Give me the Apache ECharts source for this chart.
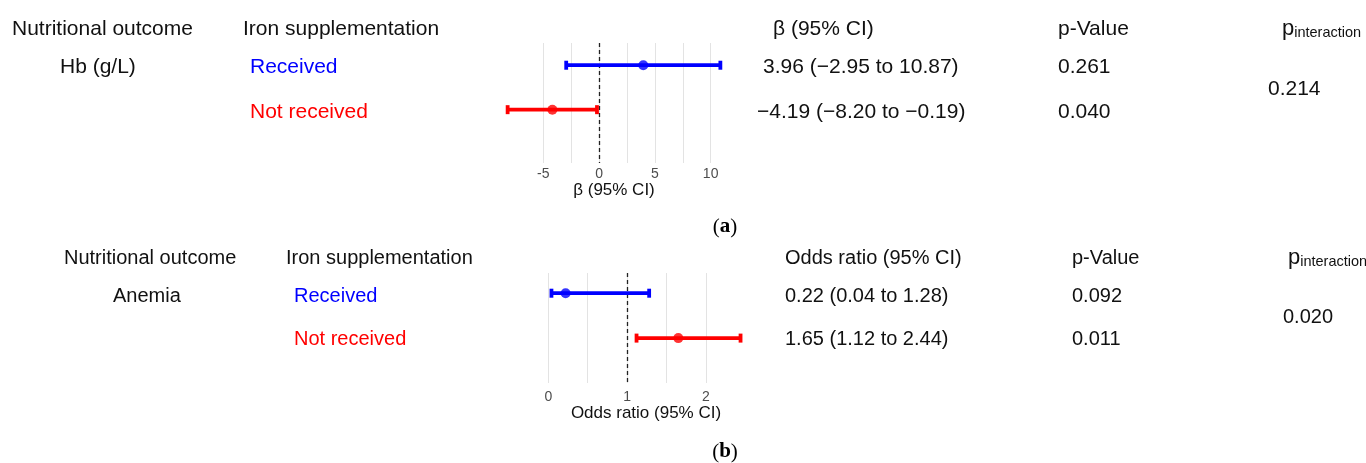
<!DOCTYPE html>
<html><head><meta charset="utf-8">
<script src="https://cdn.jsdelivr.net/npm/echarts@6/dist/echarts.min.js"></script>
<style>html,body{margin:0;padding:0;background:#fff}#c{width:1366px;height:463px}</style>
</head><body><div id="c"></div>
<script>
// ---------- data ----------
const groups = ['Received', 'Not received'];
const groupColors = ['#0000ff', '#ff0000'];

// Panel (a): Hb (g/L)
const hbOutcome = 'Hb (g/L)';
const hbHeaders = ['Nutritional outcome', 'Iron supplementation', 'β (95% CI)', 'p-Value'];
const hbEst = [3.96, -4.19];
const hbLow = [-2.95, -8.20];
const hbHigh = [10.87, -0.19];
const hbCI = ['3.96 (−2.95 to 10.87)', '−4.19 (−8.20 to −0.19)'];
const hbP = ['0.261', '0.040'];
const hbPint = '0.214';
const hbTicks = [-5, 0, 5, 10];
const hbGridVals = [-5, -2.5, 0, 2.5, 5, 7.5, 10];
const hbRef = 0;
const hbAxisName = 'β (95% CI)';

// Panel (b): Anemia
const anOutcome = 'Anemia';
const anHeaders = ['Nutritional outcome', 'Iron supplementation', 'Odds ratio (95% CI)', 'p-Value'];
const anEst = [0.22, 1.65];
const anLow = [0.04, 1.12];
const anHigh = [1.28, 2.44];
const anCI = ['0.22 (0.04 to 1.28)', '1.65 (1.12 to 2.44)'];
const anP = ['0.092', '0.011'];
const anPint = '0.020';
const anTicks = [0, 1, 2];
const anGridVals = [0, 0.5, 1, 1.5, 2];
const anRef = 1;
const anAxisName = 'Odds ratio (95% CI)';

// ---------- layout ----------
const FONT = '"Liberation Sans", Arial, sans-serif';
const layoutA = {
  grid: {left: 497, top: 43, width: 234, height: 120},
  yMin: 0.5, yMax: 3.2,
  size: 21,
  headerY: 29, rowY: [67, 112],
  colX: [12, 243, 773, 1058], outcomeX: 60, groupX: 250, ciX: [763, 757], pX: 1058,
  pintX: 1282, pintHeadY: 28, pintValX: 1268, pintValY: 89,
  panelLabel: 'a', panelX: 725, panelY: 227,
  nameGap: 18, labelMargin: 4
};
const layoutB = {
  grid: {left: 542, top: 273, width: 208, height: 110},
  yMin: 0.55, yMax: 3.0,
  size: 20,
  headerY: 258.5, rowY: [296, 339],
  colX: [64, 286, 785, 1072], outcomeX: 113, groupX: 294, ciX: [785, 785], pX: 1072,
  pintX: 1288, pintHeadY: 257, pintValX: 1283, pintValY: 317,
  panelLabel: 'b', panelX: 725, panelY: 452,
  nameGap: 21, labelMargin: 7
};

function expand(lo, hi) {
  const mn = Math.min(...lo), mx = Math.max(...hi), d = mx - mn;
  return [mn - 0.05 * d, mx + 0.05 * d];
}

function txt(x, y, s, size, color, align) {
  return {type: 'text', x: x, y: y, silent: true,
    style: {text: s, fontSize: size, fontFamily: FONT, fill: color || '#111',
      align: align || 'left', verticalAlign: 'middle'}};
}

function panelGraphics(L, outcome, headers, ci, pv, pint) {
  const g = [];
  headers.forEach((h, i) => g.push(txt(L.colX[i], L.headerY, h, L.size)));
  g.push(txt(L.outcomeX, L.rowY[0], outcome, L.size));
  groups.forEach((gr, i) => {
    g.push(txt(L.groupX, L.rowY[i], gr, L.size, groupColors[i]));
    g.push(txt(L.ciX[i], L.rowY[i], ci[i], L.size));
    g.push(txt(L.pX, L.rowY[i], pv[i], L.size));
  });
  g.push({type: 'text', x: L.pintX, y: L.pintHeadY, silent: true,
    style: {text: '{p|p}{s|interaction}', align: 'left', verticalAlign: 'middle', fill: '#111',
      rich: {p: {fontSize: 22, fontFamily: FONT, fill: '#111', verticalAlign: 'bottom', lineHeight: 24},
             s: {fontSize: 14.5, fontFamily: FONT, fill: '#111', verticalAlign: 'bottom', lineHeight: 22}}}});
  g.push(txt(L.pintValX, L.pintValY, pint, L.size));
  g.push({type: 'text', x: L.panelX, y: L.panelY, silent: true,
    style: {text: '{n|(}{b|' + L.panelLabel + '}{n|)}', align: 'center', verticalAlign: 'middle',
      rich: {n: {fontSize: 21, fontFamily: '"Liberation Serif", "DejaVu Serif", serif', fill: '#000'},
             b: {fontSize: 21, fontWeight: 'bold', fontFamily: '"Liberation Serif", "DejaVu Serif", serif', fill: '#000'}}}});
  return g;
}

function errRender(params, api) {
  const lo = api.coord([api.value(0), api.value(2)]);
  const hi = api.coord([api.value(1), api.value(2)]);
  const color = groupColors[params.dataIndex];
  const cap = 4.5;
  const st = {stroke: color, lineWidth: 3.8, lineCap: 'butt'};
  return {type: 'group', children: [
    {type: 'line', shape: {x1: lo[0], y1: lo[1], x2: hi[0], y2: hi[1]}, style: st},
    {type: 'line', shape: {x1: lo[0], y1: lo[1] - cap, x2: lo[0], y2: lo[1] + cap}, style: st},
    {type: 'line', shape: {x1: hi[0], y1: hi[1] - cap, x2: hi[0], y2: hi[1] + cap}, style: st}
  ]};
}

function panelSeries(idx, est, lo, hi, gridVals, ref) {
  const errData = groups.map((g, i) => [lo[i], hi[i], i + 1]);
  const ptData = groups.map((g, i) => ({value: [est[i], i + 1], itemStyle: {color: groupColors[i]}}));
  return [
    {type: 'custom', xAxisIndex: idx, yAxisIndex: idx, renderItem: errRender, data: errData, z: 3,
      encode: {x: [0, 1], y: 2},
      markLine: {silent: true, symbol: 'none', z: 1, label: {show: false},
        lineStyle: {color: '#e3e3e3', width: 1, type: 'solid'},
        data: gridVals.map(v => ({xAxis: v}))}},
    {type: 'scatter', xAxisIndex: idx, yAxisIndex: idx, data: ptData, symbolSize: 10, z: 4,
      markLine: {silent: true, symbol: 'none', z: 2, label: {show: false},
        lineStyle: {color: '#222', width: 1.3, type: [4, 3]},
        data: [{xAxis: ref}]}}
  ];
}

function xAxisFor(idx, lo, hi, ticks, name, L) {
  const ext = expand(lo, hi);
  return {type: 'value', gridIndex: idx, min: ext[0], max: ext[1],
    axisLine: {show: false}, axisTick: {show: false}, splitLine: {show: false},
    axisLabel: {customValues: ticks, color: '#4d4d4d', fontSize: 14, fontFamily: FONT, margin: L.labelMargin,
      showMinLabel: true, showMaxLabel: true},
    name: name, nameLocation: 'middle', nameGap: L.nameGap,
    nameTextStyle: {color: '#111', fontSize: 17, fontFamily: FONT, verticalAlign: 'top'}};
}

const chart = echarts.init(document.getElementById('c'), null, {renderer: 'canvas'});
chart.setOption({
  animation: false,
  backgroundColor: '#fff',
  grid: [Object.assign({}, layoutA.grid), Object.assign({}, layoutB.grid)],
  xAxis: [xAxisFor(0, hbLow, hbHigh, hbTicks, hbAxisName, layoutA),
          xAxisFor(1, anLow, anHigh, anTicks, anAxisName, layoutB)],
  yAxis: [{type: 'value', gridIndex: 0, inverse: true, min: layoutA.yMin, max: layoutA.yMax, show: false},
          {type: 'value', gridIndex: 1, inverse: true, min: layoutB.yMin, max: layoutB.yMax, show: false}],
  series: panelSeries(0, hbEst, hbLow, hbHigh, hbGridVals, hbRef)
    .concat(panelSeries(1, anEst, anLow, anHigh, anGridVals, anRef)),
  graphic: panelGraphics(layoutA, hbOutcome, hbHeaders, hbCI, hbP, hbPint)
    .concat(panelGraphics(layoutB, anOutcome, anHeaders, anCI, anP, anPint))
});
</script>
</body></html>
